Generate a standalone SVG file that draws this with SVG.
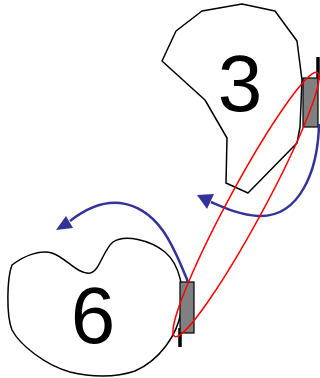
<svg xmlns="http://www.w3.org/2000/svg" width="320" height="378" viewBox="0 0 320 378">
<style>
.outline{fill:#ffffff;stroke:#000000;stroke-width:1.5;stroke-linejoin:round}
.label{font-family:"Liberation Sans",Arial,sans-serif;font-size:80px;fill:#000000;text-anchor:middle}
.port{fill:#808080;stroke:#000000;stroke-width:1.2}
.pin{stroke:#000000;stroke-width:3.5;fill:none}
.blue{fill:none;stroke:#333399;stroke-width:2.5}
.head{fill:#333399;stroke:none}
.loop{fill:none;stroke:#ff0000;stroke-width:1.5}
</style>
<rect width="320" height="378" fill="#ffffff"/>
<g id="node-3">
<polygon class="outline" points="162,61 176,31 202,11 242,4 275,11 297,41 302,80 300,127 297,143 248,193 226,183 227,138 205,100"/>
<text class="label" x="240" y="111">3</text>
</g>
<g id="node-6">
<path class="outline" d="M12,265 C25,255 40,250 52,253 C65,257 78,275 90,273 C100,271 103,250 113,242 C125,234 150,240 165,252 C180,265 185,290 181,312 C177,335 160,360 135,371 C115,378 90,377 70,372 C45,365 20,345 12,330 C6,315 7,278 12,265 Z"/>
<text class="label" x="93" y="343">6</text>
</g>
<g id="port-3">
<line class="pin" x1="318" y1="57" x2="318" y2="80"/>
<rect class="port" x="303" y="78" width="15" height="49"/>
</g>
<g id="port-6">
<line class="pin" x1="180" y1="328" x2="180" y2="347"/>
<rect class="port" x="180" y="282" width="14" height="51"/>
</g>
<g id="connectors">
<path class="blue" d="M319,124 C318,170 300,218 258,216 C240,215 225,208 211,202"/>
<polygon class="head" points="197,195 214,194 207,209"/>
<path class="blue" d="M188,282 C175,250 160,208 120,203 C100,201 84,210 70,221"/>
<polygon class="head" points="56,230 66,216 73,228"/>
<ellipse class="loop" cx="246" cy="204.5" rx="150" ry="17.7" transform="rotate(-61.6 246 204.5)"/>
</g>
</svg>
